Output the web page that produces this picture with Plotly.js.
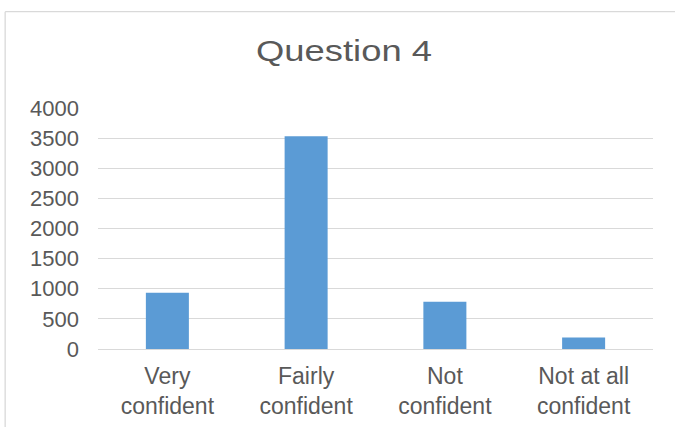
<!DOCTYPE html>
<html>
<head>
<meta charset="utf-8">
<script src="https://cdn.plot.ly/plotly-3.0.1.min.js"></script>
<style>html,body{margin:0;padding:0;background:#fff;}#chart{width:675px;height:427px;}</style>
</head>
<body>
<div id="chart"></div>
<script>
var categories = ["Very<br>confident", "Fairly<br>confident", "Not<br>confident", "Not at all<br>confident"];
var values = [935, 3530, 785, 190];
var yTickVals = [0, 500, 1000, 1500, 2000, 2500, 3000, 3500, 4000];
var chartTitle = "Question 4";

var font = "Liberation Sans, Arial, sans-serif";
var textColor = "#595959";
var borderColor = "#D9D9D9";

var data = [{
  type: "bar",
  x: categories,
  y: values,
  marker: {color: "#5B9BD5"},
  width: 0.31,
  hoverinfo: "none"
}];

var pxX = function (px) { return (px - 97.5) / 556; };
var pxY = function (py) { return (349 - py) / 241.5; };

var layout = {
  width: 675,
  height: 427,
  margin: {l: 97.5, r: 21.5, t: 107.5, b: 78, pad: 0},
  paper_bgcolor: "#ffffff",
  plot_bgcolor: "#ffffff",
  showlegend: false,
  title: {
    text: chartTitle,
    font: {family: font, size: 29, color: textColor},
    xref: "container", x: 344/675, xanchor: "center",
    yref: "container", y: (427-51)/427, yanchor: "middle"
  },
  xaxis: {
    showgrid: false,
    zeroline: false,
    showline: true,
    linecolor: borderColor,
    linewidth: 1,
    ticks: "",
    ticklabelstandoff: 6,
    tickfont: {family: font, size: 23, color: textColor},
    fixedrange: true
  },
  yaxis: {
    range: [0, 4000],
    tickvals: yTickVals,
    showgrid: true,
    gridcolor: borderColor,
    gridwidth: 1.2,
    zeroline: false,
    showline: false,
    ticks: "",
    ticklabelstandoff: 18,
    tickfont: {family: font, size: 22, color: textColor},
    fixedrange: true
  },
  shapes: [
    {type: "line", xref: "paper", yref: "paper",
     x0: pxX(4.5), x1: pxX(680), y0: pxY(11), y1: pxY(11),
     line: {color: borderColor, width: 1.3}, layer: "below"},
    {type: "line", xref: "paper", yref: "paper",
     x0: pxX(4.5), x1: pxX(4.5), y0: pxY(11), y1: pxY(432),
     line: {color: borderColor, width: 1.3}, layer: "below"}
  ]
};

Plotly.newPlot("chart", data, layout, {displayModeBar: false, staticPlot: true}).then(function (gd) {
  // the reference title is drawn horizontally wider than plain Arial; stretch it about its centre
  var t = gd.querySelector(".gtitle");
  if (t) {
    var bb = t.getBBox();
    var targetW = 176, cx = 344;
    var s = targetW / bb.width;
    t.setAttribute("transform", "translate(" + cx + ",0) scale(" + s + ",1) translate(" + (-(bb.x + bb.width / 2)) + ",0)");
  }
});
</script>
</body>
</html>
